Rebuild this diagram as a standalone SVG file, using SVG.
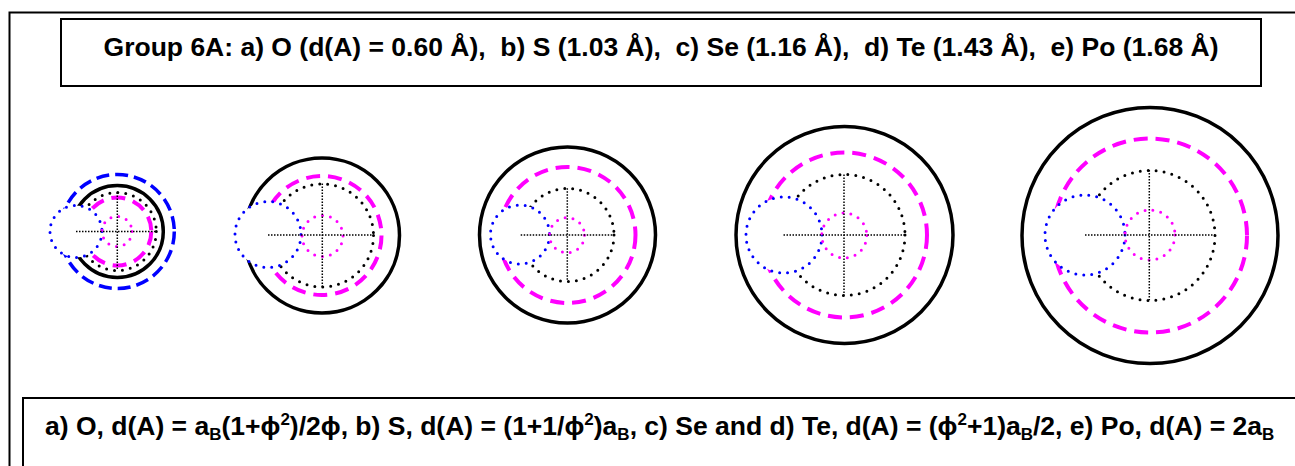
<svg xmlns="http://www.w3.org/2000/svg" width="1295" height="466" viewBox="0 0 1295 466">
<style>
  .frame{fill:none;stroke:#000;stroke-width:2}
  .solid{fill:none;stroke:#000;stroke-width:3.5}
  .bdash{fill:none;stroke:#0000FF;stroke-width:3.5;stroke-dasharray:13 6}
  .mdash{fill:none;stroke:#FF00FF;stroke-width:4;stroke-dasharray:14 8}
  .kdot{fill:none;stroke:#000;stroke-width:3;stroke-linecap:round;stroke-dasharray:0 8}
  .bdot{fill:#fff;stroke:#0000FF;stroke-width:3;stroke-linecap:round;stroke-dasharray:0 8}
  .mdot{fill:none;stroke:#FF00FF;stroke-width:3;stroke-linecap:round;stroke-dasharray:0 8}
  .cross{fill:none;stroke:#000;stroke-width:1.5;stroke-dasharray:1.5 1.5}
  .t{font-family:"Liberation Sans",Arial,sans-serif;font-weight:bold;font-size:26.5px;fill:#000}
</style>
<rect width="1295" height="466" fill="#fff"/>
<rect class="frame" x="9.5" y="12.5" width="1300" height="470"/>
<g id="title">
  <rect class="frame" x="61" y="19" width="1200" height="67"/>
  <text class="t" x="661" y="56" text-anchor="middle" xml:space="preserve" style="white-space:pre">Group 6A: a) O (d(A) = 0.60 Å),  b) S (1.03 Å),  c) Se (1.16 Å),  d) Te (1.43 Å),  e) Po (1.68 Å)</text>
</g>
<g id="atom-a">
  <circle class="bdash" cx="117.3" cy="231.5" r="57"/>
  <circle class="solid" cx="117.3" cy="231.5" r="46"/>
  <circle class="kdot" cx="117.3" cy="231.5" r="39"/>
  <circle class="mdash" cx="117.3" cy="231.5" r="34"/>
  <circle class="bdot" cx="76" cy="231.5" r="26"/>
  <circle class="mdot" cx="117" cy="231.5" r="15"/>
  <line class="cross" x1="76" y1="231.5" x2="156" y2="231.5"/>
  <line class="cross" x1="117.3" y1="192.5" x2="117.3" y2="270.5"/>
</g>
<g id="atom-b">
  <circle class="solid" cx="322" cy="235.5" r="77.5"/>
  <circle class="mdash" cx="322" cy="235.5" r="59.5"/>
  <circle class="kdot" cx="322" cy="235.5" r="51.5"/>
  <circle class="bdot" cx="268" cy="234.5" r="33"/>
  <circle class="mdot" cx="322.5" cy="236" r="20.5"/>
  <line class="cross" x1="268" y1="235" x2="372" y2="235"/>
  <line class="cross" x1="322.3" y1="183.5" x2="322.3" y2="287"/>
</g>
<g id="atom-c">
  <circle class="solid" cx="567.5" cy="235" r="88"/>
  <circle class="mdash" cx="567.5" cy="235" r="68"/>
  <circle class="kdot" cx="567.5" cy="235" r="46.5"/>
  <circle class="bdot" cx="520" cy="234.5" r="29.5"/>
  <circle class="mdot" cx="567" cy="235.2" r="17.5"/>
  <line class="cross" x1="520.7" y1="235" x2="613.3" y2="235"/>
  <line class="cross" x1="567.3" y1="188.3" x2="567.3" y2="280"/>
</g>
<g id="atom-d">
  <circle class="solid" cx="844.5" cy="235" r="108.5"/>
  <circle class="mdash" cx="844.5" cy="235" r="82.5"/>
  <circle class="kdot" cx="844.5" cy="235" r="60.5"/>
  <circle class="bdot" cx="784" cy="235" r="38"/>
  <circle class="mdot" cx="844.3" cy="235.5" r="22.5"/>
  <line class="cross" x1="783.5" y1="235" x2="904.5" y2="235"/>
  <line class="cross" x1="844" y1="174.5" x2="844" y2="295.5"/>
</g>
<g id="atom-e">
  <circle class="solid" cx="1150" cy="235.5" r="128"/>
  <circle class="mdash" cx="1150" cy="235.5" r="97"/>
  <circle class="kdot" cx="1150" cy="235.5" r="65"/>
  <circle class="bdot" cx="1085" cy="235" r="40"/>
  <circle class="mdot" cx="1150" cy="235" r="25"/>
  <line class="cross" x1="1085" y1="235" x2="1215" y2="235"/>
  <line class="cross" x1="1149.3" y1="170" x2="1149.3" y2="300"/>
</g>
<g id="formula">
  <rect class="frame" x="23" y="398" width="1290" height="90"/>
  <text class="t" x="45" y="435">a) O, d(A) = a<tspan font-size="17" dy="5">B</tspan><tspan dy="-5">(1+ϕ</tspan><tspan font-size="17" dy="-10">2</tspan><tspan dy="10">)/2ϕ, b) S, d(A) = (1+1/ϕ</tspan><tspan font-size="17" dy="-10">2</tspan><tspan dy="10">)a</tspan><tspan font-size="17" dy="5">B</tspan><tspan dy="-5">, c) Se and d) Te, d(A) = (ϕ</tspan><tspan font-size="17" dy="-10">2</tspan><tspan dy="10">+1)a</tspan><tspan font-size="17" dy="5">B</tspan><tspan dy="-5">/2, e) Po, d(A) = 2a</tspan><tspan font-size="17" dy="5">B</tspan></text>
</g>
</svg>
